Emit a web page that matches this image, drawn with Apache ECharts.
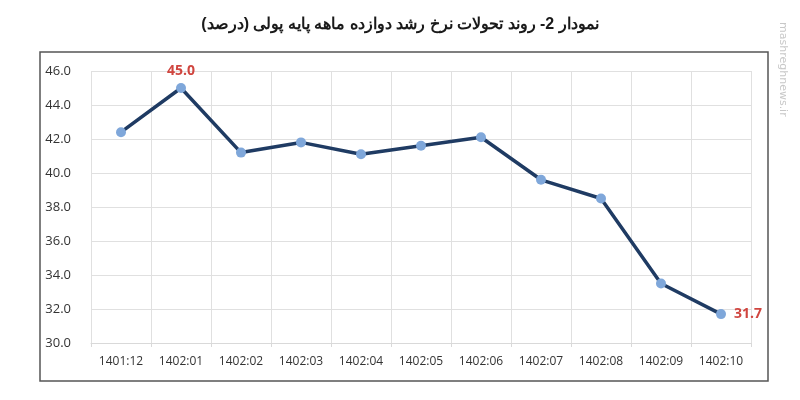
<!DOCTYPE html>
<html>
<head>
<meta charset="utf-8">
<script src="https://cdn.jsdelivr.net/npm/echarts@6/dist/echarts.min.js"></script>
<style>
  html, body { margin: 0; padding: 0; background: #fff; }
  #main { width: 800px; height: 400px; }
</style>
</head>
<body>
<div id="main"></div>
<script>
var months = ['1401:12', '1402:01', '1402:02', '1402:03', '1402:04', '1402:05',
              '1402:06', '1402:07', '1402:08', '1402:09', '1402:10'];
var growth = [42.4, 45.0, 41.2, 41.8, 41.1, 41.6, 42.1, 39.6, 38.5, 33.5, 31.7];
var labelled = [1, 10]; // points with red value labels

var seriesData = [];
for (var i = 0; i < growth.length; i++) {
    var item = { value: growth[i] };
    if (labelled.indexOf(i) >= 0) {
        item.label = {
            show: true,
            position: i == growth.length - 1 ? 'right' : 'top',
            distance: i == growth.length - 1 ? 8 : 5,
            formatter: function (p) { return p.value.toFixed(1); },
            color: '#d0453f',
            fontWeight: 'bold',
            fontSize: 14,
            fontFamily: 'Open Sans'
        };
    }
    seriesData.push(item);
}

var myChart = echarts.init(document.getElementById('main'));
var option = {
    backgroundColor: '#fff',
    animation: false,
    title: {
        text: 'نمودار 2- روند تحولات نرخ رشد دوازده ماهه پایه پولی (درصد)',
        left: 'center',
        top: 12,
        textStyle: {
            fontSize: 16,
            fontWeight: 'bold',
            color: '#1a1a1a',
            fontFamily: 'Liberation Sans'
        }
    },
    graphic: [
        {
            type: 'rect',
            shape: { x: 40, y: 52, width: 728, height: 329 },
            style: { fill: 'none', stroke: '#555', lineWidth: 1.5 }
        },
        {
            type: 'text',
            x: 788, y: 22,
            rotation: -Math.PI / 2,
            style: {
                text: 'mashreghnews.ir',
                fill: '#c8c8c8',
                fontSize: 11,
                fontFamily: 'DejaVu Sans'
            }
        }
    ],
    grid: { left: 91, right: 49, top: 71, bottom: 57 },
    xAxis: {
        type: 'category',
        data: months,
        boundaryGap: true,
        axisLine: { show: true, lineStyle: { color: '#d9d9d9' } },
        axisTick: { show: true, length: 4, interval: 0, lineStyle: { color: '#d9d9d9' } },
        splitLine: { show: true, interval: 0, lineStyle: { color: '#e0e0e0' } },
        axisLabel: {
            interval: 0,
            color: '#333',
            fontSize: 12,
            margin: 13,
            fontFamily: 'Open Sans'
        }
    },
    yAxis: {
        type: 'value',
        min: 30,
        max: 46,
        interval: 2,
        axisLine: { show: false },
        axisTick: { show: false },
        splitLine: { lineStyle: { color: '#e0e0e0' } },
        axisLabel: {
            color: '#333',
            fontSize: 13,
            margin: 20,
            fontFamily: 'Open Sans',
            formatter: function (v) { return v.toFixed(1); }
        }
    },
    series: [{
        type: 'line',
        data: seriesData,
        symbol: 'circle',
        symbolSize: 10,
        lineStyle: { color: '#1f3b63', width: 3.5 },
        itemStyle: { color: '#7fa7da' },
        label: { show: false }
    }]
};
myChart.setOption(option);
</script>
</body>
</html>
